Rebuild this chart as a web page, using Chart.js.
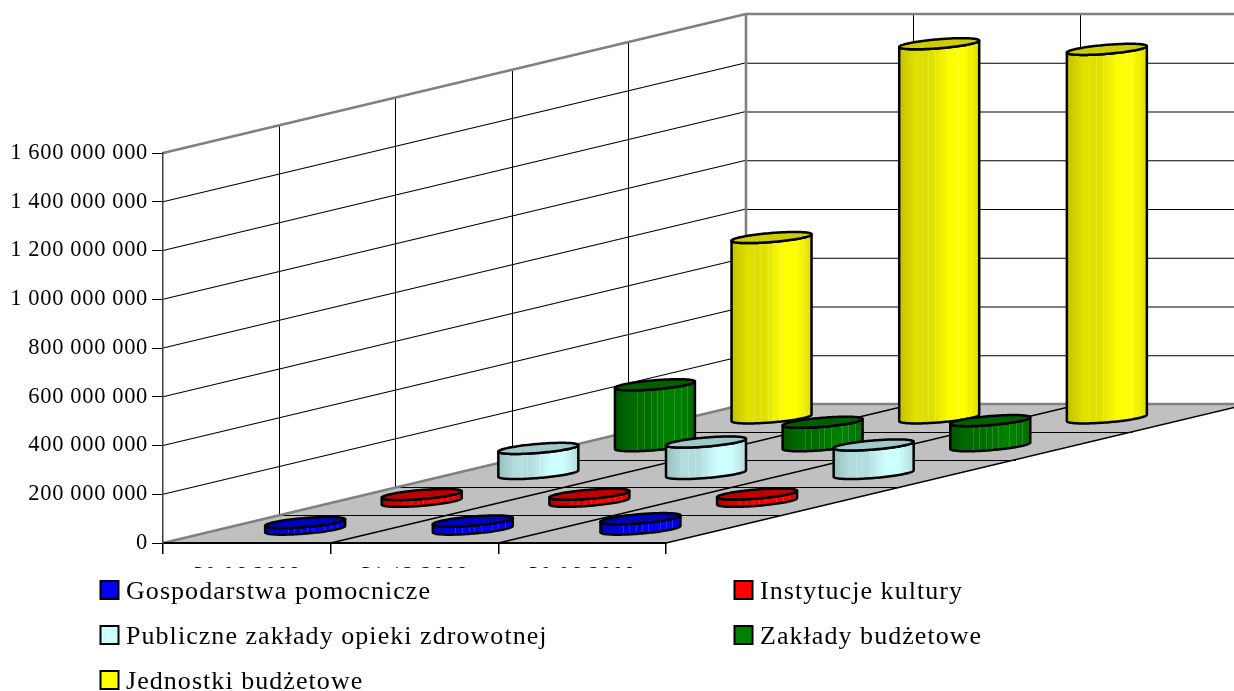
<!DOCTYPE html>
<html><head><meta charset="utf-8">
<style>html,body{margin:0;padding:0;background:#fff}canvas{display:block}</style>
<script src="https://cdn.jsdelivr.net/npm/chart.js@4/dist/chart.umd.min.js"></script>
</head><body><canvas id="c" width="1234" height="691"></canvas>
<script>
const categories = ['30.06.2008', '31.12.2008', '30.06.2009'];
const gospodarstwa = [27000000, 33000000, 43000000];
const instytucje = [28000000, 29000000, 30000000];
const zoz = [103000000, 129000000, 117000000];
const zaklady = [250000000, 96000000, 103000000];
const jednostki = [740000000, 1535000000, 1512000000];
const seriesNames = ['Gospodarstwa pomocnicze', 'Instytucje kultury', 'Publiczne zakłady opieki zdrowotnej', 'Zakłady budżetowe', 'Jednostki budżetowe'];
const seriesValues = [gospodarstwa, instytucje, zoz, zaklady, jednostki];
const fills = ['#0000ff', '#ff0000', '#ccffff', '#008000', '#ffff00'];
const sideDark = ['#0000b0', '#b00000', '#96bfbf', '#005200', '#c2c200'];
const sideMid = ['#0000dc', '#dc0000', '#b3dcdc', '#006c00', '#dfdf00'];
const tops = ['#0000c0', '#c00000', '#a0caca', '#006000', '#cccc00'];
const stripes = [0.28, 0.36, 0.45, 0.52, 0.6, 0.74, 0.82, 0.9];

const DEPTH = {x: 583, y: -139};
const FONT = '"Liberation Serif", "Times New Roman", serif';
const N = seriesNames.length;

const scene = {
  id: 'scene',
  beforeDraw(chart) {
    const c = chart.ctx, a = chart.chartArea, ys = chart.scales.y, xs = chart.scales.x;
    c.save();
    c.fillStyle = '#fff'; c.fillRect(0, 0, chart.width, chart.height);
    const L = a.left, R = a.right, B = a.bottom, T = a.top, dx = DEPTH.x, dy = DEPTH.y;
    c.fillStyle = '#c0c0c0';
    c.beginPath(); c.moveTo(L, B); c.lineTo(R, B); c.lineTo(R + dx, B + dy); c.lineTo(L + dx, B + dy); c.closePath(); c.fill();
    const line = (x1, y1, x2, y2, col, w) => { c.strokeStyle = col; c.lineWidth = w; c.beginPath(); c.moveTo(x1, y1); c.lineTo(x2, y2); c.stroke(); };
    ys.ticks.forEach(t => {
      const y = ys.getPixelForValue(t.value);
      if (t.value === ys.min || t.value === ys.max) return;
      line(L, y, L + dx, y + dy, '#000', 1.2);
      line(L + dx, y + dy + .5, R + dx, y + dy + .5, '#000', 1);
    });
    for (let k = 1; k < N; k++) {
      const ox = dx * k / N, oy = dy * k / N;
      line(Math.round(L + ox) - .5, B + oy, Math.round(L + ox) - .5, T + oy, '#000', 1);
      line(L + ox, Math.round(B + oy) + .5, R + ox, Math.round(B + oy) + .5, '#000', 1);
    }
    categories.forEach((_, i) => {
      const x = xs.getPixelForValue(i) + (xs.getPixelForValue(1) - xs.getPixelForValue(0)) / 2;
      line(x, B, x + dx, B + dy, '#000', 1.4);
      if (i < categories.length - 1) line(Math.round(x + dx) - .5, B + dy, Math.round(x + dx) - .5, T + dy, '#000', 1);
    });
    line(L, B, L + dx, B + dy, '#808080', 2.6);
    line(L + dx, B + dy, R + dx, B + dy, '#808080', 2.6);
    line(L, T, L + dx, T + dy, '#808080', 2.6);
    line(L + dx, T + dy, R + dx, T + dy, '#808080', 2.6);
    line(L + dx, T + dy, L + dx, B + dy, '#808080', 2.6);
    c.restore();
    c.letterSpacing = '0.65px';
  },
  beforeDatasetDraw(chart, args) {
    const c = chart.ctx, s = args.index, xs = chart.scales.x, ys = chart.scales.y;
    const frac = (s + 0.5) / N, ux = DEPTH.x / N, uy = DEPTH.y / N;
    const f = 0.2, rad = 40;
    const bx = f * ux, aa = Math.sqrt(rad * rad - bx * bx), t0 = Math.atan2(bx, aa);
    const pt = (cx, cy, t) => [cx + aa * Math.cos(t) + bx * Math.sin(t), cy + f * uy * Math.sin(t)];
    seriesValues[s].forEach((v, i) => {
      const cx = xs.getPixelForValue(i) + DEPTH.x * frac;
      const by = ys.getPixelForValue(0) + DEPTH.y * frac;
      const ty = ys.getPixelForValue(v) + DEPTH.y * frac;
      const g = c.createLinearGradient(cx - rad, 0, cx + rad, 0);
      g.addColorStop(0, sideDark[s]); g.addColorStop(0.2, sideMid[s]);
      g.addColorStop(0.4, sideMid[s]); g.addColorStop(0.66, fills[s]); g.addColorStop(0.8, fills[s]); g.addColorStop(1, sideMid[s]);
      c.save();
      c.lineWidth = 2.5; c.strokeStyle = '#000'; c.lineJoin = 'round';
      const n = 60;
      const body = () => {
        c.beginPath();
        for (let k = 0; k <= n; k++) { const p = pt(cx, by, t0 - Math.PI * k / n); k ? c.lineTo(p[0], p[1]) : c.moveTo(p[0], p[1]); }
        for (let k = n; k >= 0; k--) { const p = pt(cx, ty, t0 - Math.PI * k / n); c.lineTo(p[0], p[1]); }
        c.closePath();
      };
      body(); c.fillStyle = g; c.fill();
      c.save(); body(); c.clip();
      c.strokeStyle = 'rgba(255,255,255,0.16)'; c.lineWidth = 1;
      stripes.forEach(q => {
        const x = Math.round(cx - rad + 2 * rad * q) + .5;
        c.beginPath(); c.moveTo(x, ty - 12); c.lineTo(x, by + 12); c.stroke();
      });
      c.restore();
      body(); c.stroke();
      c.beginPath();
      for (let k = 0; k <= 2 * n; k++) { const p = pt(cx, ty, Math.PI * k / n); k ? c.lineTo(p[0], p[1]) : c.moveTo(p[0], p[1]); }
      c.closePath(); c.fillStyle = tops[s]; c.fill(); c.stroke();
      c.restore();
    });
    return false;
  },
  afterDraw(chart) {
    const c = chart.ctx;
    c.save();
    c.fillStyle = '#fff'; c.fillRect(0, 568, chart.width, chart.height - 568);
    c.font = '26px ' + FONT; c.letterSpacing = '1.05px';
    c.textBaseline = 'alphabetic'; c.textAlign = 'left';
    const cols = [100.5, 734.5], rows = [581, 626, 671];
    chart.data.datasets.forEach((d, i) => {
      const x = cols[i % 2], y = rows[Math.floor(i / 2)];
      c.fillStyle = d.backgroundColor; c.strokeStyle = '#000'; c.lineWidth = 2;
      c.fillRect(x, y, 18, 18); c.strokeRect(x, y, 18, 18);
      c.fillStyle = '#000'; c.fillText(d.label, x + 25.5, y + 18);
    });
    c.restore();
  }
};

new Chart(document.getElementById('c'), {
  type: 'bar',
  data: {
    labels: categories,
    datasets: seriesNames.map((n, i) => ({label: n, data: seriesValues[i], backgroundColor: fills[i]}))
  },
  plugins: [scene],
  options: {
    responsive: false, animation: false,
    layout: {padding: {left: 0, right: 568, top: 153, bottom: 0}},
    plugins: {legend: {display: false}, tooltip: {enabled: false}, title: {display: false}},
    scales: {
      x: {
        afterFit: s => { s.height = 148; },
        grid: {drawOnChartArea: false, tickLength: 11, lineWidth: 1.5, tickColor: ctx => ctx.index === 3 ? '#808080' : '#000'},
        border: {color: '#000', width: 2},
        ticks: {color: '#000', font: {family: FONT, size: 22.5}, padding: 9, maxRotation: 0}
      },
      y: {
        min: 0, max: 1600000000,
        afterFit: s => { s.width = 163; },
        grid: {drawOnChartArea: false, tickLength: 11, tickColor: '#000', lineWidth: 1},
        border: {color: '#404040', width: 1.5},
        ticks: {
          stepSize: 200000000, color: '#000', padding: 4,
          font: {family: FONT, size: 22.5},
          callback: v => String(v).replace(/\B(?=(\d{3})+(?!\d))/g, ' ')
        }
      }
    }
  }
});
</script></body></html>
